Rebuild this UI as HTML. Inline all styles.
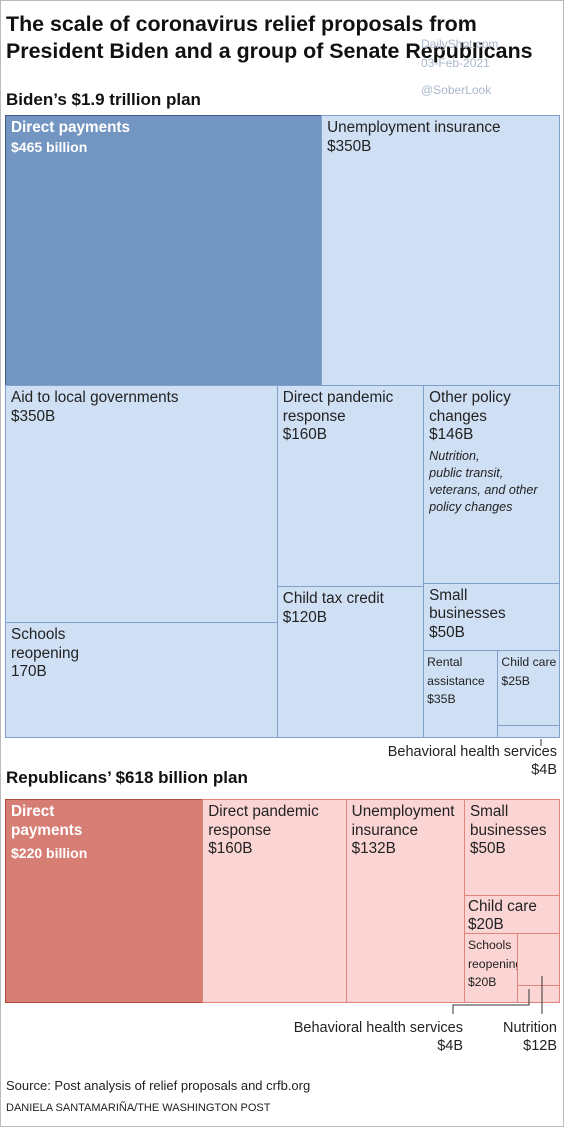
<!DOCTYPE html>
<html><head><meta charset="utf-8">
<style>
body{margin:0;background:#fff;}
#page{position:relative;width:562px;height:1125px;border:1px solid #bbb;overflow:hidden;font-family:"Liberation Sans",sans-serif;color:#222;}
.t{position:absolute;white-space:nowrap;}
.cell{position:absolute;box-sizing:border-box;}
.lab{position:absolute;left:5px;top:3px;font-size:15.3px;line-height:18.5px;white-space:nowrap;}
.sm{font-size:12.2px;line-height:17px;}
</style></head><body>
<div id="page">
<div class="t" style="left:5px;top:10px;font-size:21.4px;font-weight:bold;line-height:27px;color:#111;">The scale of coronavirus relief proposals from<br>President Biden and a group of Senate Republicans</div>
<div class="t" style="left:420px;top:34px;font-size:12px;color:#aab8cc;line-height:19px;">DailyShot.com<br>03-Feb-2021</div>
<div class="t" style="left:420px;top:82px;font-size:12px;color:#aab8cc;">@SoberLook</div>
<div class="t" style="left:5px;top:89px;font-size:17px;font-weight:bold;color:#111;">Biden’s $1.9 trillion plan</div>
<div class="t" style="left:5px;top:767px;font-size:17px;font-weight:bold;color:#111;">Republicans’ $618 billion plan</div>
<div id="biden"></div>
<div id="rep"></div>
<svg width="562" height="1125" style="position:absolute;left:0;top:0">
<line x1="540" y1="738" x2="540" y2="745" stroke="#333"/>
<polyline points="528,988 528,1004 452,1004 452,1013" fill="none" stroke="#333"/>
<line x1="541" y1="975" x2="541" y2="1013" stroke="#333"/>
</svg>
<div class="t" style="right:6px;top:742px;text-align:right;font-size:14.5px;line-height:18px;">Behavioral health services<br>$4B</div>
<div class="t" style="right:100px;top:1018px;text-align:right;font-size:14.5px;line-height:18px;">Behavioral health services<br>$4B</div>
<div class="t" style="right:6px;top:1018px;text-align:right;font-size:14.5px;line-height:18px;">Nutrition<br>$12B</div>
<div class="t" style="left:5px;top:1077px;font-size:13px;">Source: Post analysis of relief proposals and crfb.org</div>
<div class="t" style="left:5px;top:1101px;font-size:11px;">DANIELA SANTAMARIÑA/THE WASHINGTON POST</div>
</div>
<script>
// Biden plan values ($B)
const bidenNames=["Direct payments","Unemployment insurance","Aid to local governments","Schools reopening","Direct pandemic response","Child tax credit","Other policy changes","Small businesses","Rental assistance","Child care","Behavioral health services"];
const bidenValues=[465,350,350,170,160,120,146,50,35,25,4];
const bidenLabels=["$465 billion","$350B","$350B","170B","$160B","$120B","$146B","$50B","$35B","$25B",""];
// Republican plan values ($B)
const repNames=["Direct payments","Direct pandemic response","Unemployment insurance","Small businesses","Child care","Schools reopening","Nutrition","Behavioral health services"];
const repValues=[220,160,132,50,20,20,12,4];
const repLabels=["$220 billion","$160B","$132B","$50B","$20B","$20B","",""];

// layout trees: h = side by side, v = stacked; leaves are indices
const bidenTree={d:'v',c:[{d:'h',c:[0,1]},{d:'h',c:[{d:'v',c:[2,3]},{d:'v',c:[4,5]},{d:'v',c:[6,7,{d:'h',c:[8,{d:'v',c:[9,10]}]}]}]}]};
const repTree={d:'h',c:[0,1,2,{d:'v',c:[3,4,{d:'h',c:[5,{d:'v',c:[6,7]}]}]}]};

function sum(n,vals){return typeof n==='number'?vals[n]:n.c.reduce((s,k)=>s+sum(k,vals),0);}
function layout(n,vals,x,y,w,h,out){
  if(typeof n==='number'){out[n]={x,y,w,h};return;}
  const tot=sum(n,vals);let off=0;
  n.c.forEach(k=>{const f=sum(k,vals)/tot;
    if(n.d==='h'){layout(k,vals,x+off,y,w*f,h,out);off+=w*f;}
    else{layout(k,vals,x,y+off,w,h*f,out);off+=h*f;}});
}
const bidenText={
 0:'<b>Direct payments</b><br><b style="font-size:14px">'+bidenLabels[0]+'</b>',
 1:'Unemployment insurance<br>'+bidenLabels[1],
 2:'Aid to local governments<br>'+bidenLabels[2],
 3:'Schools<br>reopening<br>'+bidenLabels[3],
 4:'Direct pandemic<br>response<br>'+bidenLabels[4],
 5:'Child tax credit<br>'+bidenLabels[5],
 6:'Other policy<br>changes<br>'+bidenLabels[6]+'<div style="font-style:italic;font-size:12.6px;line-height:17px;margin-top:3px">Nutrition,<br>public transit,<br>veterans, and other<br>policy changes</div>',
 7:'Small<br>businesses<br>'+bidenLabels[7],
 8:'<span class="sm">Rental<br>assistance<br>'+bidenLabels[8]+'</span>',
 9:'<span class="sm">Child care<br>'+bidenLabels[9]+'</span>',
 10:''};
const repText={
 0:'<b>Direct<br>payments<br><span style="line-height:26px;font-size:14px">'+repLabels[0]+'</span></b>',
 1:'Direct pandemic<br>response<br>'+repLabels[1],
 2:'Unemployment<br>insurance<br>'+repLabels[2],
 3:'Small<br>businesses<br>'+repLabels[3],
 4:'Child care<br>'+repLabels[4],
 5:'<span class="sm">Schools<br>reopening<br>'+repLabels[5]+'</span>',
 6:'',7:''};
function draw(id,tree,vals,names,texts,X,Y,W,H,light,lb,dark,db){
  const out=[];layout(tree,vals,X,Y,W,H,out);
  const host=document.getElementById(id);
  out.forEach((r,i)=>{
    const d=document.createElement('div');
    d.className='cell';
    
    
    d.style.left=r.x+'px';d.style.top=r.y+'px';d.style.width=(r.w+1)+'px';d.style.height=(r.h+1)+'px';
    d.style.background=i===0?dark:light;d.style.border='1px solid '+(i===0?db:lb);
    if(texts[i]){const l=document.createElement('div');l.className='lab';
      
      
      if(i===0)l.style.color='#fff';
      if(vals[i]<40){l.style.left='3px';l.style.top='2px';}
      l.innerHTML=texts[i];d.appendChild(l);}
    host.appendChild(d);
  });
}
draw('biden',bidenTree,bidenValues,bidenNames,bidenText,4,114,554,622,'#cfe0f5','#819fcc','#7395c2','#3f5c88');
draw('rep',repTree,repValues,repNames,repText,4,798,554,203,'#fbd4d4','#e0857c','#d77e74','#b2493f');
</script>
</body></html>
